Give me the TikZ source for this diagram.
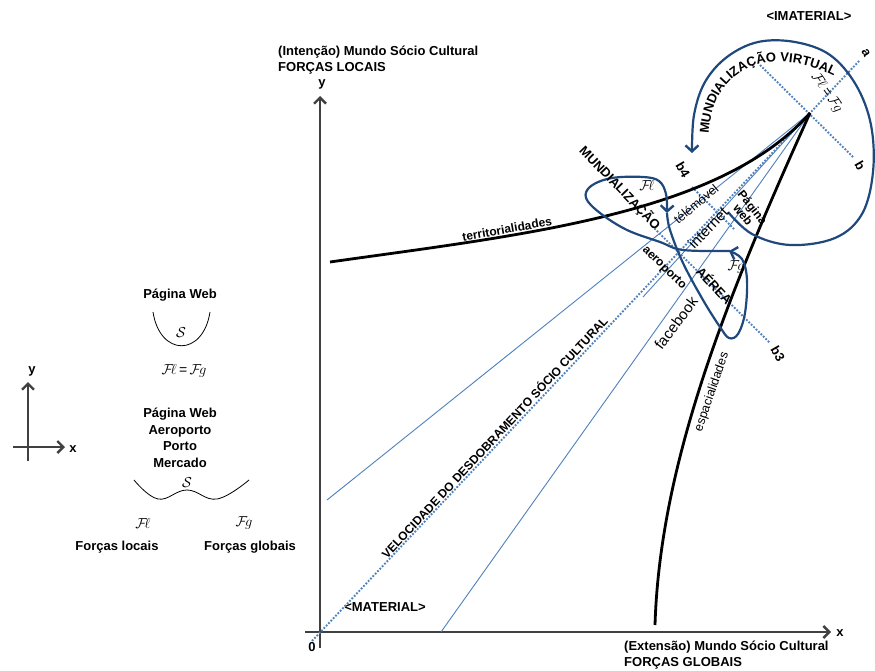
\documentclass[tikz,border=0pt]{standalone}
\usepackage{fontspec}
\setmainfont{Liberation Sans}
\setsansfont{Liberation Sans}
\usetikzlibrary{arrows.meta,decorations.text}
\definecolor{dkblue}{HTML}{1F497D}
\definecolor{ltblue}{HTML}{4F81BD}
\definecolor{axisgray}{HTML}{404040}
\newcommand{\FL}{$\mathcal{F}\!\ell$}
\newcommand{\FG}{$\mathcal{F}\!g$}
\begin{document}
\begin{tikzpicture}[x=1pt,y=-1pt,
  lbl/.style={font=\fontsize{13}{15}\selectfont\bfseries, inner sep=0pt},
  slbl/.style={font=\fontsize{12}{14}\selectfont\bfseries, inner sep=0pt},
  rlbl/.style={font=\fontsize{12.5}{14}\selectfont, inner sep=0pt},
  blbl/.style={font=\fontsize{15}{17}\selectfont, inner sep=0pt},
  mlbl/.style={font=\fontsize{14}{14}\selectfont, inner sep=0pt},
  axisline/.style={draw=axisgray, line width=1.3pt},
  axtip/.style={-{Straight Barb[length=6pt,width=12pt,line width=2.4pt]}},
  dotline/.style={draw=ltblue, line width=1.9pt, dash pattern=on 1.8pt off 1.6pt},
  thinline/.style={draw=ltblue, line width=0.9pt},
  heavy/.style={draw=black, line width=2.8pt},
  bcurve/.style={draw=dkblue, line width=2.2pt, -{Straight Barb[length=6pt,width=13pt,line width=2.4pt]}},
  thincurve/.style={draw=black, line width=0.8pt}
]
\useasboundingbox (0,0) rectangle (875,671);
\fill[white] (0,0) rectangle (875,671);

% ---------- main axes ----------
\coordinate (ybot) at (320,648);
\coordinate (ytop) at (320,96);
\coordinate (xleft) at (305,632);
\coordinate (xright) at (831,632);
\draw[axisline,axtip] (ybot) -- (ytop);
\draw[axisline,axtip] (xleft) -- (xright);
\node[lbl] (ylab) at (322,84) {y};
\node[lbl] (xlab) at (840,633) {x};
\node[lbl] (zero) at (312,647) {0};
\node[lbl,anchor=west] (t1) at (278,52) {(Intenção) Mundo Sócio Cultural};
\node[lbl,anchor=west] (t2) at (278,68) {FORÇAS LOCAIS};
\node[lbl,anchor=west] (t3) at (624,647) {(Extensão) Mundo Sócio Cultural};
\node[lbl,anchor=west] (t4) at (624,663) {FORÇAS GLOBAIS};
\node[lbl] (mat) at (385,607) {<MATERIAL>};
\node[lbl] (imat) at (809,16) {<IMATERIAL>};

% ---------- apex and guide lines ----------
\coordinate (A) at (810,113);
\coordinate (aS) at (312,641);
\coordinate (aE) at (860,60);
\coordinate (bS) at (760,65);
\coordinate (bE) at (853,157);
\coordinate (b4S) at (692,187);
\coordinate (b4E) at (734,229);
\coordinate (b3S) at (652,226);
\coordinate (b3E) at (770,343);
\coordinate (L1) at (327,500);
\coordinate (L2) at (441,632);
\coordinate (L3) at (643,297);
\draw[thinline] (A) -- (L1);
\draw[thinline] (A) -- (L2);
\draw[thinline] (A) -- (L3);
\draw[dotline] (aS) -- (aE);
\draw[dotline] (bS) -- (bE);
\draw[dotline] (b4S) -- (b4E);
\draw[dotline] (b3S) -- (b3E);
\node[lbl,rotate=-60] (la) at (866,53) {a};
\node[lbl,rotate=-60] (lb) at (860,166) {b};
\node[lbl,rotate=-60] (lb4) at (683,170) {b4};
\node[lbl,rotate=-60] (lb3) at (778,354) {b3};

% ---------- black curves ----------
\coordinate (terrS) at (330,262);
\coordinate (espE) at (655,625);
\draw[heavy] (terrS) .. controls (520,235) and (720,215) .. (A);
\draw[heavy] (A) .. controls (730,290) and (660,460) .. (espE);
\node[slbl,rotate=10] (terr) at (507,229) {territorialidades};
\node[rlbl,rotate=71] (esp) at (712,392) {espacialidades};

% ---------- blue curves ----------
\draw[bcurve] plot[smooth,tension=0.6] coordinates {(728,212) (752,234) (790,245) (835,238) (862,214) (873,172) (871,125) (856,85) (830,55) (795,42) (758,42) (727,57) (705,82) (694,115) (692,153)};
\draw[bcurve] plot[smooth,tension=0.6] coordinates {(730,251) (683,250) (660,242) (627,230) (600,213) (586,198) (591,186) (612,178) (643,177) (659,181) (666,194) (667,213)};
\draw[bcurve] plot[smooth,tension=0.6] coordinates {(667,213) (670,230) (683,263) (703,300) (720,327) (729,338) (738,334) (745,313) (747,280) (742,259) (729,251)};

% text along the virtual arc
\path[decorate,decoration={text along path,text align=center,
  text={|\fontsize{13}{13}\selectfont\bfseries|MUNDIALIZAÇÃO VIRTUAL}}]
  (709,150) .. controls (703,65) and (775,38) .. (848,84);

\node[mlbl,rotate=-55] (flfg) at (827,93) {\FL\,=\,\FG};
\node[mlbl] (fl1) at (647,186) {\FL};
\node[mlbl] (fg1) at (736,267) {\FG};

\node[lbl,rotate=-46] (mund) at (620,188) {MUNDIALIZAÇÃO};
\node[lbl,rotate=-47] (aerea) at (715,285) {AÉREA};
\node[slbl,rotate=-44] (aero) at (664,268) {aeroporto};
\node[rlbl,rotate=40] (tele) at (696,204) {télémóvel};
\node[blbl,rotate=46] (inet) at (708,228) {internet};
\node[blbl,rotate=53] (fb) at (676,323) {facebook};
\node[slbl,rotate=-52,align=center] (pweb) at (748,211) {Página\\[-2pt]web};
\node[slbl,rotate=47] (vel) at (494,437) {VELOCIDADE DO DESDOBRAMENTO SÓCIO CULTURAL};

% ---------- left legend ----------
\coordinate (sy0) at (28,461);
\coordinate (sy1) at (28,382);
\coordinate (sx0) at (13,447);
\coordinate (sx1) at (65,447);
\draw[axisline,axtip] (sy0) -- (sy1);
\draw[axisline,axtip] (sx0) -- (sx1);
\node[lbl] (sylab) at (32,371) {y};
\node[lbl] (sxlab) at (73,449) {x};

\node[lbl] (pw1) at (180,295) {Página Web};
\coordinate (uL) at (153,312);
\coordinate (uR) at (210,312);
\draw[thincurve] (uL) .. controls (160,357) and (203,357) .. (uR);
\node[mlbl] (s1) at (181,333) {$\mathcal{S}$};
\node[mlbl] (eq1) at (184,371) {\FL\,=\,\FG};

\node[lbl,align=center,font=\fontsize{13}{16.5}\selectfont\bfseries] (blk) at (180,438) {Página Web\\Aeroporto\\Porto\\Mercado};
\node[mlbl] (s2) at (187,483) {$\mathcal{S}$};
\draw[thincurve] plot[smooth,tension=0.7] coordinates {(134,480) (158,499) (187,490) (217,499) (249,480)};
\node[mlbl] (fl2) at (143,523) {\FL};
\node[mlbl] (fg2) at (244,523) {\FG};
\node[lbl] (fl3) at (117,547) {Forças locais};
\node[lbl] (fg3) at (250,547) {Forças globais};
\end{tikzpicture}
\end{document}
